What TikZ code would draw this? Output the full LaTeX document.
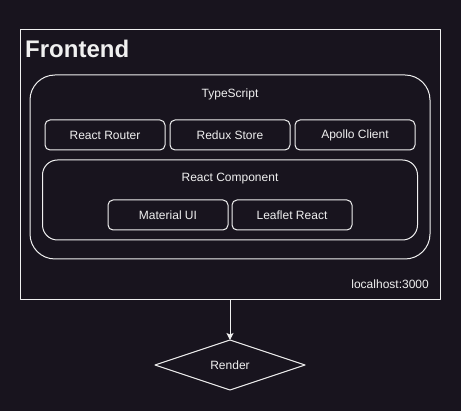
\documentclass[tikz,border=0pt]{standalone}
\usepackage{fontspec}
\setmainfont{Liberation Sans}
\usetikzlibrary{arrows.meta, shapes.geometric}
\definecolor{bgdark}{RGB}{24,20,30}
\definecolor{lineclr}{RGB}{240,240,240}

\begin{document}
\begin{tikzpicture}[x=1pt, y=-1pt, >=Latex, line join=round,
	font=\fontsize{12}{14}\selectfont,
	every node/.style={text=lineclr},
	caption/.style={inner sep=0pt},
	part/.style={draw=lineclr, line width=1pt, rounded corners=5pt,
		minimum width=120pt, minimum height=30pt, inner sep=0pt, outer sep=0pt},
	group/.style={draw=lineclr, line width=1pt, inner sep=0pt, outer sep=0pt},
	decision/.style={draw=lineclr, line width=1pt, diamond, aspect=3,
		minimum width=150pt, minimum height=50pt, inner sep=0pt, outer sep=0pt}]
	
	% background
	\fill[bgdark] (0,0) rectangle (461,411);
	\useasboundingbox (0,0) rectangle (461,411);
	
	%========================
	% Frontend container
	%========================
	\node[group, minimum width=420pt, minimum height=270pt] (frontend) at (230,165) {};
	\node[caption, anchor=base west, font=\fontsize{24}{28}\selectfont\bfseries] (frontendlbl) at (25,58) {Frontend};
	\node[caption, anchor=base east] (host) at (429,289) {localhost:3000};
	
	% TypeScript layer
	\node[group, rounded corners=25pt, minimum width=400pt, minimum height=184pt] (ts) at (230,167) {};
	\node[caption] (tslbl) at (230,94) {TypeScript};
	
	% libraries
	\node[part] (router) at (105,135) {React Router};
	\node[part] (redux) at (230,135) {Redux Store};
	\node[part] (apollo) at (355,135) {Apollo Client};
	
	% React Component layer
	\node[group, rounded corners=15pt, minimum width=375pt, minimum height=80pt] (comp) at (230,200) {};
	\node[caption] (complbl) at (230,179) {React Component};
	\node[part] (mui) at (168,215) {Material UI};
	\node[part] (leaflet) at (292,215) {Leaflet React};
	
	%========================
	% Render step
	%========================
	\node[decision] (render) at (230,365) {Render};
	\draw[lineclr, line width=1pt, -{Stealth[length=7pt, width=7pt, inset=1.5pt]}] (frontend.south) -- (render.north);
	
\end{tikzpicture}
\end{document}
